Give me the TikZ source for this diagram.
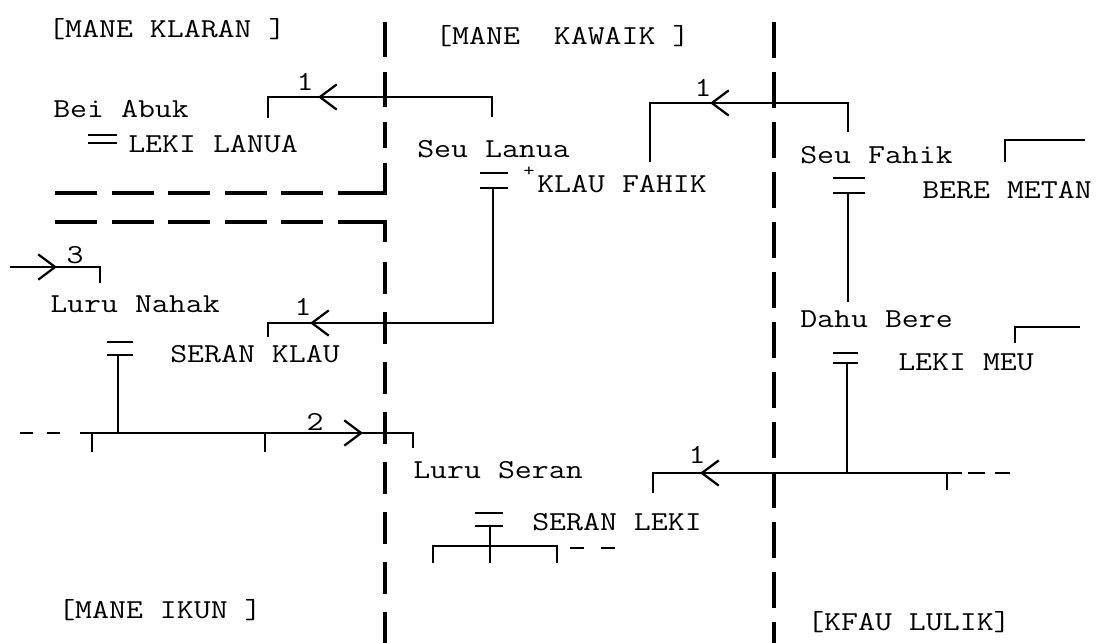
\documentclass[tikz,border=0pt]{standalone}
\usepackage{fontspec}
\setmonofont{Latin Modern Mono}[FakeStretch=1.2]
\usetikzlibrary{arrows.meta}
\tikzset{
  txt/.style={anchor=base west,inner sep=0pt,font=\ttfamily\fontsize{19.5}{24}\selectfont},
  lbl/.style={inner sep=0pt,font=\ttfamily\fontsize{19.5}{24}\selectfont},
  kin/.style={line width=1.2pt},
  border/.style={line width=3pt},
  chevron/.style={line width=1.2pt,-{Straight Barb[length=12pt,width=18pt,line width=1.6pt]}}
}
\begin{document}
\begin{tikzpicture}[x=0.025cm,y=-0.025cm]
    \useasboundingbox (0,0) rectangle (1097,643);

    % groups
    \node[txt] (klaran) at (48,38) {[MANE KLARAN~]};
    \node[txt] (kawaik) at (435,45) {[MANE~~KAWAIK~]};
    \node[txt] (ikun) at (58,618) {[MANE IKUN~]};
    \node[txt] (lulik) at (807,630) {[KFAU LULIK]};

    % boundaries
    \draw[border,dash pattern=on 0.875cm off 0.375cm] (385,22) -- (385,148);
    \draw[border] (338,193) -- (385,193) -- (385,163);
    \draw[border,dash pattern=on 1.05cm off 0.365cm] (55,193) -- (325,193);
    \draw[border,dash pattern=on 1.05cm off 0.365cm] (55,222) -- (325,222);
    \draw[border] (338,222) -- (385,222) -- (385,242);
    \draw[border,dash pattern=on 0.8cm off 0.45cm] (385,262) -- (385,643);
    \draw[border,dash pattern=on 0.9cm off 0.35cm] (774,22) -- (774,643);

    % people
    \node[txt] (beiabuk) at (53,118) {Bei Abuk};
    \node[txt] (lekilanua) at (128,153) {LEKI LANUA};
    \node[txt] (seulanua) at (417,157) {Seu Lanua};
    \node[txt] (klaufahik) at (537,192) {KLAU FAHIK};
    \node[lbl,font=\ttfamily\fontsize{13}{14}\selectfont] (plus) at (529,172) {+};
    \node[txt] (seufahik) at (800,163) {Seu Fahik};
    \node[txt] (beremetan) at (922,198) {BERE METAN};
    \node[txt] (dahubere) at (800,327) {Dahu Bere};
    \node[txt] (lekimeu) at (898,370) {LEKI MEU};
    \node[txt] (lurunahak) at (50,312) {Luru Nahak};
    \node[txt] (seranklau) at (170,362) {SERAN KLAU};
    \node[txt] (luruseran) at (413,478) {Luru Seran};
    \node[txt] (seranleki) at (532,530) {SERAN LEKI};

    % marriage signs
    \foreach \xa/\xb/\ya/\yb in {88/117/135/143,480/508/173/188,833/865/178/193,
                                 833/858/353/363,107/133/342/355,475/503/513/526} {
        \draw[kin] (\xa,\ya) -- (\xb,\ya);
        \draw[kin] (\xa,\yb) -- (\xb,\yb);
    }

    % lines of descent and exchange
    \coordinate (bdA) at (268,118);
    \coordinate (bdB) at (492,117);
    \draw[kin] (bdA) -- (268,97) -- (492,97) -- (bdB);
    \coordinate (kfA) at (650,162);
    \coordinate (kfB) at (848,132);
    \draw[kin] (kfA) -- (650,103) -- (848,103) -- (kfB);
    \draw[kin] (493,188) -- (493,323) -- (268,323) -- (268,337);
    \draw[kin] (848,193) -- (848,302);
    \draw[kin] (1005,162) -- (1005,140) -- (1085,140);
    \draw[kin] (1015,343) -- (1015,327) -- (1080,327);
    \draw[kin] (847,363) -- (847,473);
    \draw[kin] (653,493) -- (653,473) -- (962,473);
    \draw[kin,dash pattern=on 0.42cm off 0.25cm] (968,473) -- (1010,473);
    \draw[kin] (947,473) -- (947,490);
    \draw[kin] (118,355) -- (118,433);
    \draw[kin,dash pattern=on 0.33cm off 0.35cm] (20,433) -- (62,433);
    \draw[kin] (80,433) -- (413,433) -- (413,448);
    \draw[kin] (92,433) -- (92,452);
    \draw[kin] (265,433) -- (265,452);
    \draw[kin] (490,526) -- (490,563);
    \draw[kin] (433,563) -- (433,546) -- (557,546) -- (557,563);
    \draw[kin,dash pattern=on 0.35cm off 0.42cm] (570,548) -- (617,548);
    \draw[kin] (10,267) -- (100,267) -- (100,283);

    % arrows
    \draw[chevron] (330,97) -- (318,97);
    \draw[chevron] (722,103) -- (710,103);
    \draw[chevron] (322,323) -- (310,323);
    \draw[chevron] (712,473) -- (700,473);
    \draw[chevron] (351,433) -- (363,433);
    \draw[chevron] (45,267) -- (57,267);
    \node[lbl] (n1) at (305,82) {1};
    \node[lbl] (n2) at (703,88) {1};
    \node[lbl] (n3) at (303,307) {1};
    \node[lbl] (n4) at (697,455) {1};
    \node[lbl] (n5) at (315,422) {2};
    \node[lbl] (n6) at (75,255) {3};
\end{tikzpicture}
\end{document}
